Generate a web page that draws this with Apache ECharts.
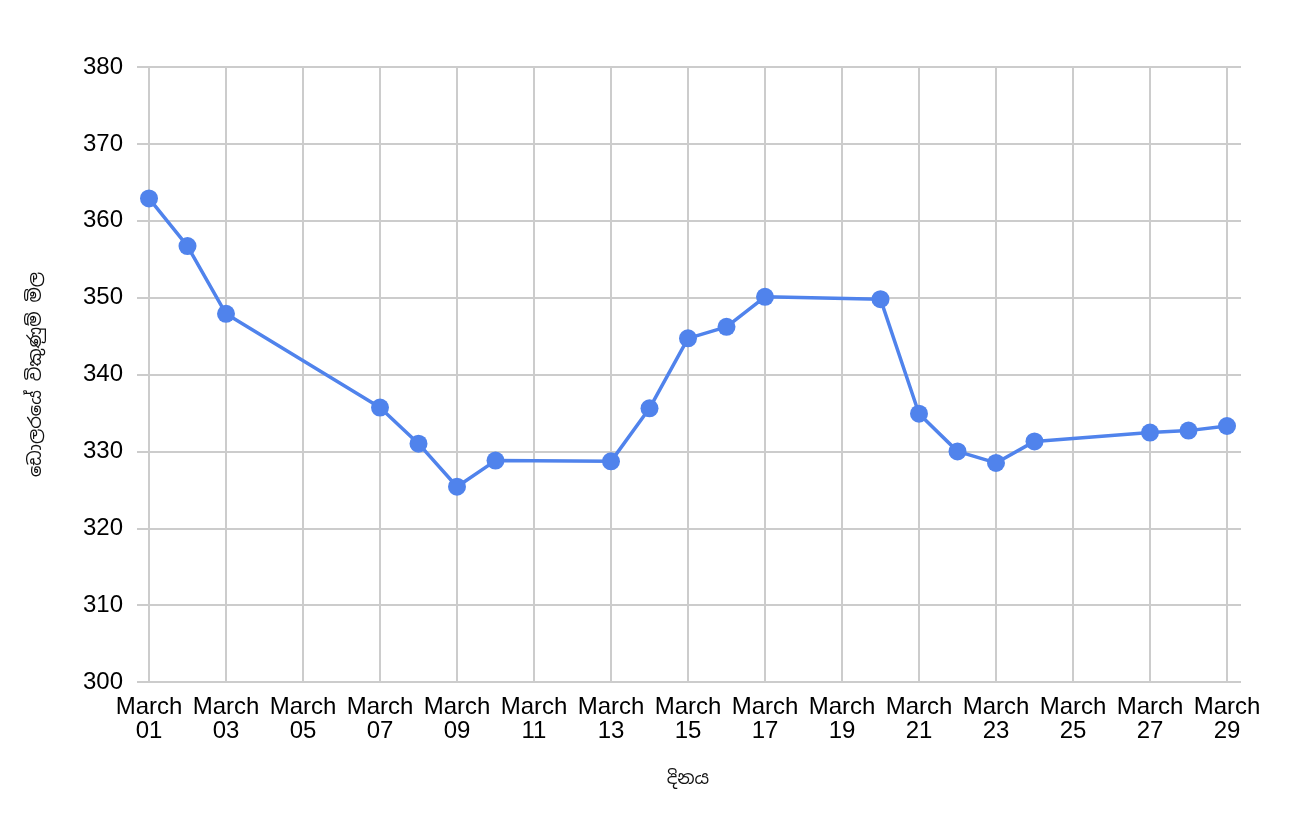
<!DOCTYPE html>
<html>
<head>
<meta charset="utf-8">
<script src="https://cdn.jsdelivr.net/npm/echarts@6/dist/echarts.min.js"></script>
<style>
html,body{margin:0;padding:0;background:#fff;}
#chart{width:1298px;height:816px;}
</style>
</head>
<body>
<div id="chart"></div>
<script>
// Data (March days and dollar selling price)
const monthName = 'March';
const days = [1, 2, 3, 7, 8, 9, 10, 13, 14, 15, 16, 17, 20, 21, 22, 23, 24, 27, 28, 29];
const prices = [362.9, 356.7, 347.9, 335.7, 331.0, 325.4, 328.8, 328.7, 335.6, 344.7, 346.2, 350.1, 349.8, 334.9, 330.0, 328.5, 331.3, 332.45, 332.7, 333.3];
const yTicks = [300, 310, 320, 330, 340, 350, 360, 370, 380];
const xTickDays = [1, 3, 5, 7, 9, 11, 13, 15, 17, 19, 21, 23, 25, 27, 29];
const xTitle = 'දිනය';
const yTitle = 'ඩොලරයේ විකුණුම් මිල';

const font = "'Liberation Sans', Arial, sans-serif";
const sinFont = "'Noto Sans Sinhala', 'Noto Sans', 'Liberation Sans', sans-serif";
const gridColor = '#cccccc';

const chart = echarts.init(document.getElementById('chart'));
const pad = d => (d < 10 ? '0' : '') + d;

chart.setOption({
  animation: false,
  backgroundColor: '#ffffff',
  grid: [
    {left: 137, right: 57, top: 67, bottom: 134},
    {left: 149, right: 71, top: 67, bottom: 134}
  ],
  xAxis: [
    {gridIndex: 0, type: 'value', min: 0, max: 1, show: false},
    {
      gridIndex: 1, type: 'value',
      min: xTickDays[0], max: xTickDays[xTickDays.length - 1], interval: 2,
      name: xTitle, nameLocation: 'middle', nameGap: 88,
      nameTextStyle: {fontFamily: sinFont, fontSize: 18, color: '#111'},
      axisLine: {show: false},
      axisTick: {show: false},
      axisLabel: {
        fontFamily: font, fontSize: 24, color: '#000', lineHeight: 24, margin: 13,
        formatter: v => monthName + '\n' + pad(v)
      },
      splitLine: {show: true, lineStyle: {color: gridColor, width: 2}}
    }
  ],
  yAxis: [
    {
      gridIndex: 0, type: 'value', min: yTicks[0], max: yTicks[yTicks.length - 1], interval: 10,
      name: yTitle, nameLocation: 'middle', nameGap: 92,
      nameTextStyle: {fontFamily: sinFont, fontSize: 18, color: '#111'},
      axisLine: {show: false},
      axisTick: {show: false},
      axisLabel: {fontFamily: font, fontSize: 24, color: '#000', margin: 14},
      splitLine: {show: true, lineStyle: {color: gridColor, width: 2}}
    },
    {
      gridIndex: 1, type: 'value', min: yTicks[0], max: yTicks[yTicks.length - 1], interval: 10,
      show: false, splitLine: {show: false}
    }
  ],
  series: [{
    type: 'line',
    xAxisIndex: 1, yAxisIndex: 1,
    data: days.map((d, i) => [d, prices[i]]),
    symbol: 'circle', symbolSize: 18,
    lineStyle: {color: '#5083ec', width: 3.5},
    itemStyle: {color: '#5083ec'},
    z: 5
  }]
});
</script>
</body>
</html>
